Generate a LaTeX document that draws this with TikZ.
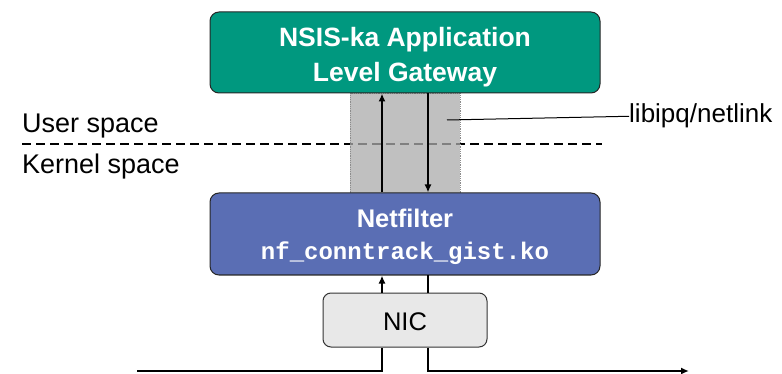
\documentclass[tikz,border=0pt]{standalone}
\usepackage{fontspec}
\setmainfont{Liberation Sans}
\setmonofont{Liberation Mono}
\usetikzlibrary{arrows.meta}
\definecolor{algteal}{RGB}{0,152,127}
\definecolor{nfblue}{RGB}{90,110,180}
\definecolor{chgray}{RGB}{171,171,171}
\definecolor{nicgray}{RGB}{232,232,232}
\tikzset{
  layerbox/.style={draw=black!85, line width=1pt, rounded corners=9pt, minimum width=390pt},
  nicbox/.style={draw=black!80, line width=1pt, rounded corners=8pt, fill=nicgray,
    minimum width=164pt, minimum height=54pt},
  wire/.style={draw=black, line width=1.6pt},
  flow/.style={wire, -{Latex[length=8pt,width=7pt]}},
  boxtext/.style={anchor=base, text=white, font=\bfseries\fontsize{26.5}{30}\selectfont, inner sep=0pt},
  plaintext/.style={inner sep=0pt, font=\fontsize{27}{30}\selectfont}
}
\begin{document}
\begin{tikzpicture}[x=1pt, y=-1pt]
\useasboundingbox (0,0) rectangle (782,374);

% user/kernel boundary
\coordinate (dl) at (22,144);
\coordinate (dr) at (602,144);
\draw[line width=1.5pt, dash pattern=on 9pt off 5pt] (dl) -- (dr);

% communication channel between the ALG and netfilter (translucent, boundary shows through)
\node (chan) [draw=black!45, densely dotted, line width=0.8pt, fill=chgray, fill opacity=0.75,
  minimum width=110pt, minimum height=100pt, inner sep=0pt] at (405,143) {};

% main blocks
\node (alg) [layerbox, fill=algteal, minimum height=81pt] at (405,52.5) {};
\node (alg1) [boxtext] at (405,46.7) {NSIS-ka Application};
\node (alg2) [boxtext] at (405,81.7) {Level Gateway};

\node (nf) [layerbox, fill=nfblue, minimum height=82pt] at (405,234) {};
\node (nf1) [boxtext, font=\bfseries\fontsize{25.5}{30}\selectfont] at (405,228) {Netfilter};
\node (nf2) [boxtext, font=\ttfamily\bfseries\fontsize{24}{28}\selectfont] at (405,260) {nf\_conntrack\_gist.ko};

\node (nic) [nicbox] at (405,320) {};
\node (nict) [plaintext, anchor=base, font=\fontsize{25.5}{30}\selectfont] at (405,330) {NIC};

% side labels
\node (us) [plaintext, anchor=base west] at (22,133) {User space};
\node (ks) [plaintext, anchor=base west] at (22,174) {Kernel space};
\node (lib) [plaintext, anchor=base west, font=\fontsize{26}{30}\selectfont] at (629,123) {libipq/netlink};
\coordinate (libfoot) at (447,120);
\draw[line width=1pt] (libfoot) -- (lib.west);

% message flow
\draw[flow] (nf.north -| 382,0) -- (alg.south -| 382,0);
\draw[flow] (alg.south -| 428,0) -- (nf.north -| 428,0);
\draw[flow] (nic.north -| 382,0) -- (nf.south -| 382,0);
\draw[wire] (nic.north -| 428,0) -- (nf.south -| 428,0);

\coordinate (inl) at (137,371);
\coordinate (outr) at (689,371);
\draw[wire] (inl) -| (nic.south -| 382,0);
\draw[flow] (nic.south -| 428,0) |- (outr);
\end{tikzpicture}
\end{document}
